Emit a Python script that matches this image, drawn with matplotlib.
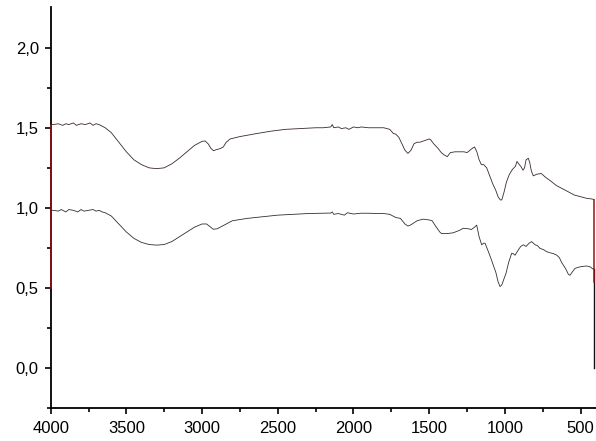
import matplotlib.pyplot as plt

plt.rcParams['font.family'] = ['Liberation Sans', 'DejaVu Sans']

# upper spectrum (wavenumber, value)
wn_top = [4000, 4000, 3980, 3950, 3920, 3900, 3880, 3850, 3830, 3800, 3770, 3740, 3720, 3700,
          3680, 3660, 3640, 3600, 3550, 3500, 3450, 3400, 3350, 3300, 3250, 3200, 3150, 3100,
          3050, 3000, 2980, 2960, 2940, 2925, 2900, 2880, 2860, 2840, 2815, 2750, 2650, 2550,
          2450, 2350, 2250, 2200, 2150, 2140, 2130, 2100, 2080, 2050, 2030, 2000, 1970, 1950,
          1900, 1850, 1800, 1760, 1737, 1720, 1700, 1680, 1660, 1640, 1620, 1600, 1580, 1560,
          1530, 1500, 1490, 1470, 1440, 1420, 1400, 1380, 1360, 1330, 1300, 1270, 1250, 1230,
          1210, 1200, 1185, 1170, 1155, 1140, 1120, 1100, 1080, 1060, 1045, 1030, 1020, 1005,
          990, 970, 950, 930, 920, 905, 895, 880, 870, 860, 845, 835, 825, 812, 790, 760, 730,
          700, 660, 620, 580, 540, 500, 460, 420, 410, 410]
val_top = [0.50, 1.52, 1.52, 1.525, 1.515, 1.525, 1.52, 1.53, 1.515, 1.525, 1.52, 1.53, 1.515, 1.525,
           1.52, 1.51, 1.50, 1.47, 1.41, 1.35, 1.30, 1.27, 1.25, 1.245, 1.25, 1.275, 1.31, 1.35,
           1.39, 1.415, 1.418, 1.40, 1.37, 1.357, 1.365, 1.37, 1.38, 1.41, 1.43, 1.445, 1.462, 1.478,
           1.49, 1.495, 1.50, 1.50, 1.505, 1.52, 1.50, 1.505, 1.495, 1.50, 1.49, 1.505, 1.50, 1.505,
           1.50, 1.50, 1.50, 1.49, 1.465, 1.46, 1.44, 1.40, 1.36, 1.34, 1.36, 1.40, 1.41, 1.41,
           1.42, 1.43, 1.425, 1.40, 1.37, 1.345, 1.33, 1.32, 1.345, 1.35, 1.35, 1.35, 1.345, 1.36,
           1.375, 1.38, 1.35, 1.30, 1.27, 1.27, 1.25, 1.20, 1.15, 1.11, 1.07, 1.05, 1.05, 1.10,
           1.16, 1.21, 1.24, 1.26, 1.29, 1.27, 1.26, 1.235, 1.25, 1.30, 1.31, 1.28, 1.23, 1.20, 1.21, 1.215, 1.19,
           1.17, 1.14, 1.12, 1.10, 1.08, 1.07, 1.06, 1.055, 1.05, 0.54]

# lower spectrum
wn_bot = [4000, 3980, 3950, 3930, 3900, 3880, 3850, 3820, 3800, 3780, 3750, 3720, 3700, 3680,
          3660, 3640, 3600, 3550, 3500, 3450, 3400, 3350, 3300, 3250, 3200, 3150, 3100, 3050,
          3000, 2970, 2950, 2926, 2900, 2860, 2800, 2700, 2600, 2500, 2400, 2300, 2200, 2150,
          2140, 2130, 2100, 2060, 2040, 2000, 1950, 1900, 1850, 1800, 1760, 1720, 1690, 1660,
          1640, 1620, 1580, 1540, 1500, 1480, 1460, 1430, 1418, 1380, 1341, 1300, 1275, 1240,
          1222, 1200, 1186, 1170, 1153, 1140, 1131, 1110, 1090, 1077, 1060, 1045, 1032, 1020,
          1005, 993, 975, 955, 945, 933, 910, 895, 878, 860, 840, 823, 800, 785, 768, 745, 724,
          700, 680, 658, 640, 625, 614, 595, 580, 570, 555, 537, 515, 490, 460, 435, 420, 410, 410]
val_bot = [0.985, 0.985, 0.98, 0.99, 0.975, 0.99, 0.985, 0.975, 0.99, 0.98, 0.985, 0.99, 0.98, 0.985,
           0.975, 0.97, 0.95, 0.90, 0.85, 0.81, 0.785, 0.772, 0.768, 0.772, 0.79, 0.82, 0.85, 0.88,
           0.90, 0.90, 0.885, 0.867, 0.87, 0.89, 0.92, 0.935, 0.945, 0.955, 0.96, 0.965, 0.967, 0.968,
           0.975, 0.96, 0.965, 0.955, 0.97, 0.962, 0.967, 0.967, 0.965, 0.965, 0.96, 0.94, 0.935, 0.90,
           0.887, 0.895, 0.92, 0.93, 0.925, 0.92, 0.89, 0.85, 0.84, 0.84, 0.845, 0.86, 0.873, 0.87,
           0.865, 0.88, 0.893, 0.82, 0.77, 0.78, 0.78, 0.73, 0.68, 0.644, 0.60, 0.54, 0.51, 0.52,
           0.56, 0.59, 0.66, 0.717, 0.715, 0.705, 0.74, 0.76, 0.77, 0.76, 0.78, 0.79, 0.77, 0.765, 0.748, 0.74, 0.727,
           0.72, 0.715, 0.706, 0.69, 0.66, 0.644, 0.615, 0.585, 0.58, 0.60, 0.623, 0.63, 0.635, 0.638, 0.632, 0.62, 0.62, 0.0]

fig = plt.figure(figsize=(5.96, 4.41), dpi=100)
ax = fig.add_axes([0.085, 0.074, 0.915, 0.909])

# red end segments of the upper trace sit on top of the spine
ax.plot(wn_top[:2], val_top[:2], color='#9a1515', lw=1.1, zorder=5, clip_on=False)
ax.plot(wn_top[-2:], val_top[-2:], color='#9a1515', lw=1.1, zorder=5, clip_on=False)
ax.plot(wn_top[1:-1], val_top[1:-1], color='#3a2a2a', lw=0.6)
ax.plot(wn_bot[:-1], val_bot[:-1], color='#303030', lw=0.6)
ax.plot(wn_bot[-2:], val_bot[-2:], color='#111111', lw=1.0, zorder=4)

ax.set_xlim(4000, 398)
ax.set_ylim(-0.25, 2.25)
ax.set_xticks([4000, 3500, 3000, 2500, 2000, 1500, 1000, 500])
ax.set_xticks([3750, 3250, 2750, 2250, 1750, 1250, 750], minor=True)
ax.set_yticks([0.0, 0.5, 1.0, 1.5, 2.0])
ax.set_yticks([-0.25, 0.25, 0.75, 1.25, 1.75], minor=True)
ax.set_yticklabels(['0,0', '0,5', '1,0', '1,5', '2,0'])

for s in ['top', 'right']:
    ax.spines[s].set_visible(False)
for s in ['left', 'bottom']:
    ax.spines[s].set_linewidth(1.3)

ax.tick_params(which='major', length=4.5, width=1.2, labelsize=12, direction='out')
ax.tick_params(which='minor', length=3, width=1.2, direction='out')
ax.tick_params(axis='x', which='major', pad=4.5)
ax.tick_params(axis='y', which='major', pad=4)

fig.savefig('out.png', dpi=100)
